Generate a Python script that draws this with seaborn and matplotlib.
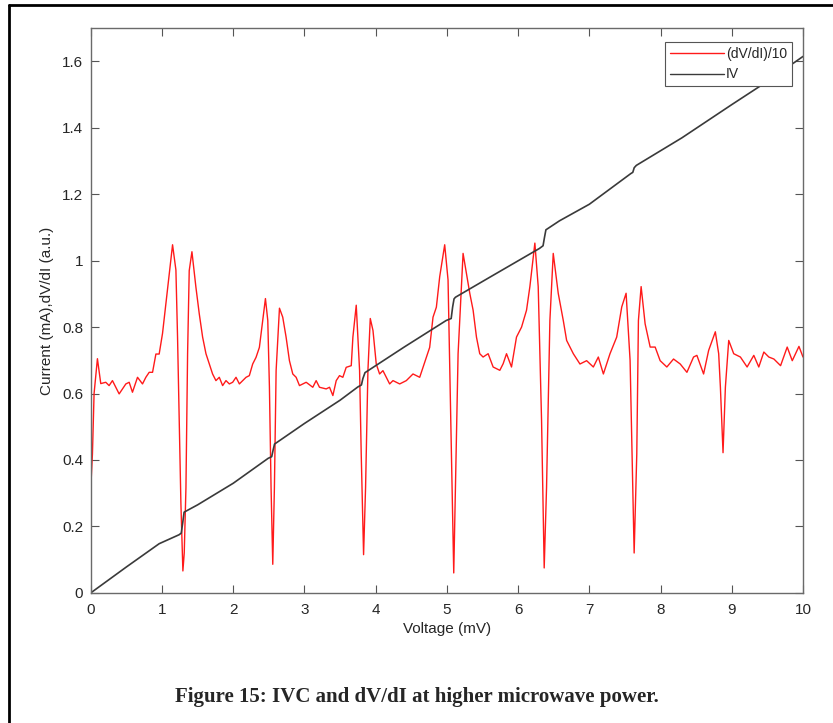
import numpy as np
import pandas as pd
import seaborn as sns
import matplotlib.pyplot as plt
from matplotlib.lines import Line2D

# IV curve (voltage in mV, current in mA)
iv_v = [0.0, 0.5, 0.96, 1.24, 1.27, 1.29, 1.31, 1.5, 2.0, 2.49, 2.54, 2.56, 2.58,
        3.0, 3.5, 3.75, 3.80, 3.82, 3.85, 4.4, 4.99, 5.06, 5.08, 5.10, 5.12, 5.6,
        6.30, 6.35, 6.37, 6.39, 6.58, 7.0, 7.58, 7.61, 7.63, 7.66, 8.3, 9.0,
        9.5, 10.0]
iv_i = [0.0, 0.078, 0.148, 0.175, 0.18, 0.21, 0.243, 0.265, 0.33, 0.405, 0.41, 0.43,
        0.448, 0.51, 0.58, 0.62, 0.626, 0.645, 0.663, 0.74, 0.82, 0.826, 0.86, 0.885,
        0.89, 0.95, 1.037, 1.045, 1.07, 1.093, 1.12, 1.17, 1.262, 1.266, 1.28,
        1.287, 1.37, 1.47, 1.54, 1.615]

# differential resistance, scaled by 1/10
dvdi_v = [0.0, 0.023, 0.046, 0.093, 0.14, 0.21, 0.257, 0.304, 0.351, 0.398, 0.445,
          0.492, 0.539, 0.585, 0.656, 0.726, 0.773, 0.82, 0.867, 0.914, 0.96, 1.007,
          1.054, 1.101, 1.148, 1.195, 1.218, 1.242, 1.265, 1.293, 1.312, 1.336,
          1.359, 1.382, 1.42, 1.476, 1.523, 1.57, 1.617, 1.664, 1.71, 1.757, 1.804,
          1.851, 1.898, 1.945, 1.992, 2.039, 2.086, 2.133, 2.18, 2.226, 2.273,
          2.32, 2.367, 2.414, 2.452, 2.485, 2.508, 2.531, 2.555, 2.578, 2.602,
          2.649, 2.695, 2.742, 2.789, 2.836, 2.883, 2.93, 3.024, 3.117, 3.164,
          3.211, 3.305, 3.352, 3.399, 3.446, 3.492, 3.539, 3.586, 3.657, 3.68,
          3.727, 3.774, 3.797, 3.83, 3.858, 3.891, 3.924, 3.962, 4.008, 4.055,
          4.102, 4.149, 4.196, 4.243, 4.337, 4.43, 4.524, 4.618, 4.665, 4.711,
          4.758, 4.805, 4.852, 4.899, 4.969, 5.016, 5.063, 5.096, 5.157, 5.227,
          5.321, 5.368, 5.415, 5.461, 5.508, 5.579, 5.649, 5.743, 5.79, 5.837,
          5.907, 5.977, 6.048, 6.118, 6.165, 6.235, 6.282, 6.329, 6.366, 6.399,
          6.446, 6.493, 6.563, 6.634, 6.681, 6.775, 6.868, 6.962, 7.056, 7.126,
          7.197, 7.29, 7.384, 7.455, 7.516, 7.572, 7.61, 7.629, 7.666, 7.689,
          7.727, 7.783, 7.854, 7.924, 7.994, 8.088, 8.182, 8.276, 8.37, 8.463,
          8.51, 8.604, 8.675, 8.769, 8.816, 8.84, 8.877, 8.91, 8.957, 9.027,
          9.121, 9.215, 9.309, 9.379, 9.45, 9.52, 9.591, 9.685, 9.778, 9.849,
          9.943, 10.0]
dvdi_y = [0.317, 0.418, 0.6, 0.705, 0.63, 0.634, 0.624, 0.639, 0.619, 0.599, 0.614,
          0.629, 0.634, 0.604, 0.649, 0.629, 0.649, 0.664, 0.664, 0.719, 0.719,
          0.781, 0.871, 0.962, 1.048, 0.972, 0.77, 0.52, 0.27, 0.066, 0.12, 0.317,
          0.72, 0.97, 1.027, 0.92, 0.84, 0.77, 0.72, 0.689, 0.659, 0.639, 0.649,
          0.624, 0.639, 0.629, 0.634, 0.649, 0.629, 0.639, 0.649, 0.654, 0.689,
          0.709, 0.739, 0.82, 0.886, 0.82, 0.62, 0.317, 0.086, 0.317, 0.669, 0.857,
          0.83, 0.77, 0.699, 0.659, 0.649, 0.624, 0.634, 0.619, 0.639, 0.619, 0.614,
          0.619, 0.594, 0.639, 0.654, 0.649, 0.679, 0.684, 0.77, 0.866, 0.669,
          0.418, 0.115, 0.317, 0.669, 0.826, 0.79, 0.689, 0.659, 0.669, 0.649,
          0.629, 0.639, 0.629, 0.639, 0.659, 0.649, 0.679, 0.709, 0.739, 0.83,
          0.86, 0.952, 1.048, 0.942, 0.418, 0.06, 0.72, 1.022, 0.902, 0.851, 0.77,
          0.72, 0.71, 0.72, 0.68, 0.67, 0.69, 0.72, 0.68, 0.77, 0.8, 0.851, 0.922,
          1.053, 0.922, 0.519, 0.075, 0.317, 0.82, 1.022, 0.902, 0.82, 0.76, 0.72,
          0.689, 0.699, 0.68, 0.71, 0.659, 0.72, 0.77, 0.861, 0.902, 0.7, 0.317,
          0.12, 0.418, 0.82, 0.922, 0.81, 0.74, 0.74, 0.699, 0.68, 0.704, 0.689,
          0.664, 0.71, 0.715, 0.659, 0.73, 0.786, 0.72, 0.619, 0.422, 0.619, 0.76,
          0.72, 0.71, 0.68, 0.715, 0.68, 0.725, 0.71, 0.704, 0.684, 0.74, 0.699,
          0.742, 0.71]

sns.set_style("ticks")
plt.rcParams['font.family'] = ['Liberation Sans', 'DejaVu Sans']

fig = plt.figure(figsize=(8.33, 7.23), dpi=100)
ax = fig.add_axes([0.109, 0.180, 0.855, 0.781])

df_dvdi = pd.DataFrame({'v': dvdi_v, 'y': dvdi_y})
df_iv = pd.DataFrame({'v': iv_v, 'i': iv_i})
sns.lineplot(data=df_dvdi, x='v', y='y', ax=ax, color='#ff1a1a', lw=1.0,
             estimator=None, sort=False)
sns.lineplot(data=df_iv, x='v', y='i', ax=ax, color='#3a3a3a', lw=1.2,
             estimator=None, sort=False)

ax.set_xlim(0, 10)
ax.set_ylim(0, 1.7)
ax.set_xticks(range(0, 11))
ax.set_yticks([0, 0.2, 0.4, 0.6, 0.8, 1.0, 1.2, 1.4, 1.6])
ax.set_yticklabels(['0', '0.2', '0.4', '0.6', '0.8', '1', '1.2', '1.4', '1.6'])
ax.tick_params(direction='in', top=True, right=True, length=6, width=0.8,
               colors='#555555', labelcolor='#262626', labelsize=11)
ax.tick_params(axis='x', pad=7)
ax.tick_params(axis='y', pad=5.5)
for s in ax.spines.values():
    s.set_color('#6a6a6a')
    s.set_linewidth(1.0)
ax.set_xlabel('Voltage (mV)', fontsize=11, color='#262626', labelpad=4)
ax.set_ylabel('Current (mA),dV/dI (a.u.)', fontsize=11, color='#262626', labelpad=6)

handles = [Line2D([], [], color='#ff1a1a', lw=1.0),
           Line2D([], [], color='#3a3a3a', lw=1.0)]
leg = ax.legend(handles, ['(dV/dI)/10', 'IV'], loc='upper right',
                bbox_to_anchor=(0.9845, 0.975), fontsize=10, frameon=True,
                fancybox=False, framealpha=1, borderpad=0.35, handlelength=3.9,
                handletextpad=0.15, labelspacing=0.45, borderaxespad=0)
leg.get_frame().set_edgecolor('#555555')
leg.get_frame().set_linewidth(0.8)

# page frame around the figure
fig.add_artist(Line2D([9 / 833, 1.0], [1 - 5 / 723, 1 - 5 / 723], color='black', lw=2,
                      transform=fig.transFigure))
fig.add_artist(Line2D([9 / 833, 9 / 833], [0, 1 - 5 / 723], color='black', lw=2,
                      transform=fig.transFigure))

fig.text(0.5, 1 - 697 / 723, 'Figure 15: IVC and dV/dI at higher microwave power.',
         ha='center', va='center', fontsize=15, fontweight='bold',
         family=['Liberation Serif', 'DejaVu Serif'])

fig.savefig('out.png', dpi=100)
